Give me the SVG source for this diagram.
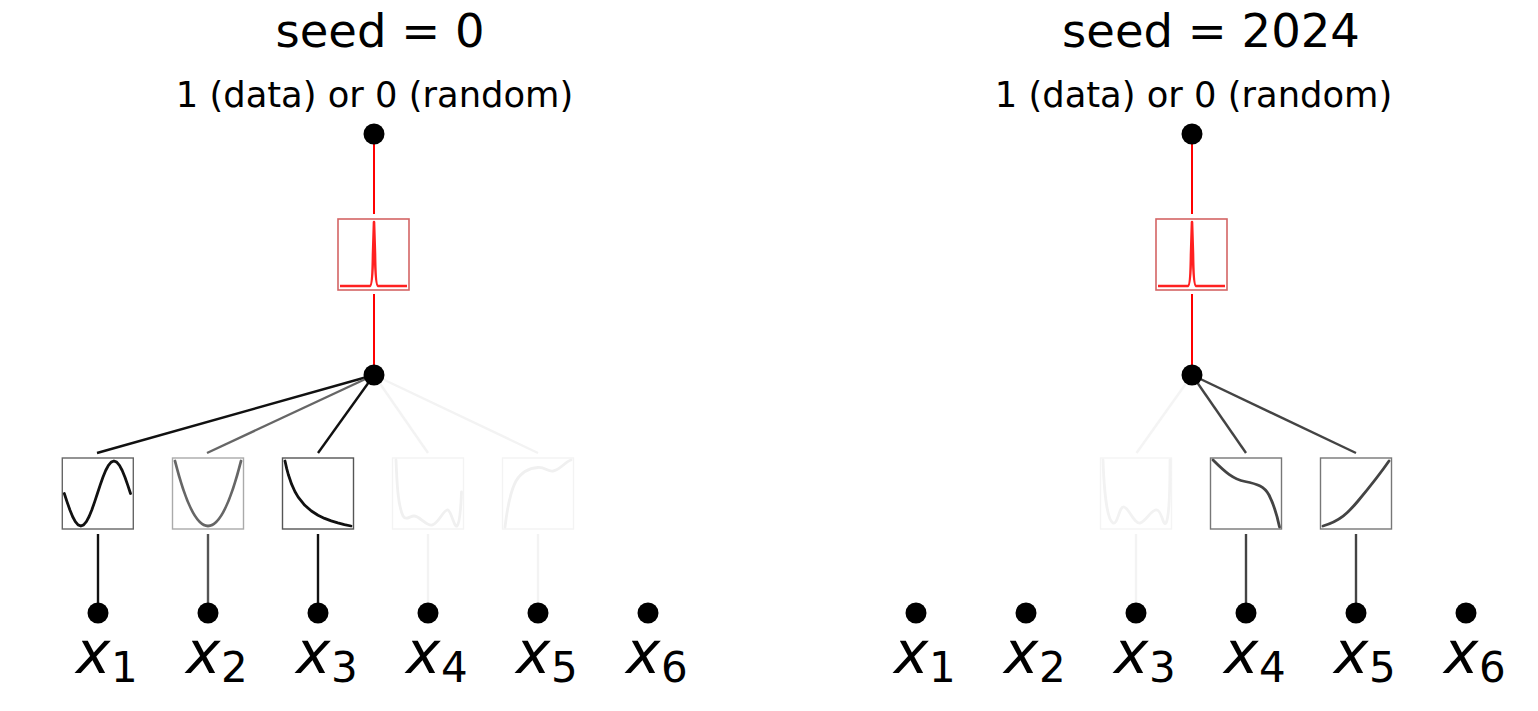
<svg xmlns="http://www.w3.org/2000/svg" width="1538" height="711" viewBox="0 0 1538 711">
<style>
text{font-family:"DejaVu Sans","Liberation Sans",sans-serif;fill:#000}
.title{font-size:46.5px;text-anchor:middle}
.sub{font-size:35.3px;text-anchor:middle}
.xv{font-size:58px;font-style:italic}
.xs{font-size:42px}
.node{fill:#000}
.red{stroke:#ff0000;stroke-width:2;fill:none}
.rbox{fill:#fff;stroke:#d46464;stroke-width:1.6}
.spike{stroke:#ff2020;stroke-width:2.6;fill:none;stroke-linejoin:round}
.box{fill:#fff;stroke-width:1.4}
.cv{fill:none;stroke-width:2.8;stroke-linecap:round;stroke-linejoin:round}
.ln{stroke-width:2.4;fill:none}
</style>
<rect width="1538" height="711" fill="#fff"/>

<g id="titles">
<text class="title" x="380" y="47">seed = 0</text>
<text class="sub" x="374.5" y="107">1 (data) or 0 (random)</text>
<text class="title" x="1211" y="47">seed = 2024</text>
<text class="sub" x="1193.5" y="107">1 (data) or 0 (random)</text>
</g>

<g id="connectors">
<!-- left panel -->
<line class="red" x1="374" y1="134" x2="374" y2="214"/>
<line class="red" x1="374" y1="294" x2="374" y2="375"/>
<line class="ln" stroke="#111" x1="374" y1="375" x2="97" y2="453"/>
<line class="ln" stroke="#666" x1="374" y1="375" x2="207" y2="453"/>
<line class="ln" stroke="#111" x1="374" y1="375" x2="318" y2="453"/>
<line class="ln" stroke="#f3f3f3" x1="374" y1="375" x2="428" y2="453"/>
<line class="ln" stroke="#f3f3f3" x1="374" y1="375" x2="538" y2="453"/>
<line class="ln" stroke="#111" x1="98" y1="534" x2="98" y2="613"/>
<line class="ln" stroke="#555" x1="208" y1="534" x2="208" y2="613"/>
<line class="ln" stroke="#111" x1="318" y1="534" x2="318" y2="613"/>
<line class="ln" stroke="#f3f3f3" x1="428" y1="534" x2="428" y2="613"/>
<line class="ln" stroke="#f3f3f3" x1="538" y1="534" x2="538" y2="613"/>
<!-- right panel -->
<line class="red" x1="1192" y1="134" x2="1192" y2="214"/>
<line class="red" x1="1192" y1="294" x2="1192" y2="375"/>
<line class="ln" stroke="#f4f4f4" x1="1192" y1="375" x2="1136.5" y2="453"/>
<line class="ln" stroke="#444" x1="1192" y1="375" x2="1246" y2="453"/>
<line class="ln" stroke="#444" x1="1192" y1="375" x2="1356" y2="453"/>
<line class="ln" stroke="#f3f3f3" x1="1136" y1="534" x2="1136" y2="613"/>
<line class="ln" stroke="#444" x1="1246" y1="534" x2="1246" y2="613"/>
<line class="ln" stroke="#444" x1="1356" y1="534" x2="1356" y2="613"/>
</g>

<!-- left panel nodes -->
<g id="L-top"><circle class="node" cx="374" cy="134" r="10.5"/></g>
<g id="L-act">
<rect class="rbox" x="338" y="219" width="71" height="71"/>
<path class="spike" d="M340,286 L370,286 Q372.5,285.5 373,254 L374,222 L375,254 Q375.5,285.5 378,286 L407,286"/>
</g>
<g id="L-mid"><circle class="node" cx="374" cy="375" r="10.5"/></g>
<g id="L-f1">
<rect class="box" stroke="#666" x="62.3" y="458" width="71" height="71"/>
<polyline class="cv" stroke="#111" points="64.3,493.5 67.06,501.91 69.82,509.75 72.57,516.48 75.33,521.65 78.09,524.89 80.85,526 83.61,524.89 86.37,521.65 89.12,516.48 91.88,509.75 94.64,501.91 97.4,493.5 100.16,485.09 102.92,477.25 105.67,470.52 108.43,465.35 111.19,462.11 113.95,461 116.71,462.11 119.47,465.35 122.22,470.52 124.98,477.25 127.74,485.09 130.5,493.5"/>
</g>
<g id="L-f2">
<rect class="box" stroke="#aaa" x="172.5" y="458" width="71" height="71"/>
<path class="cv" stroke="#666" d="M175,461 Q208,591 241,461"/>
</g>
<g id="L-f3">
<rect class="box" stroke="#555" x="282.5" y="458" width="71" height="71"/>
<polyline class="cv" stroke="#111" points="285,461 286.65,468.4 288.3,474.5 291.6,484.2 294.9,491.5 298.2,497.1 304.8,505.3 311.4,511 318,515.2 324.6,518.4 331.2,520.9 337.8,522.9 344.4,524.6 351,526"/>
</g>
<g id="L-f4">
<rect class="box" stroke="#f3f3f3" x="392.5" y="458" width="71" height="71"/>
<path class="cv" stroke="#f0f0f0" d="M396,460 C397,485 398,505 403,516 C406,521 410,516 414,516 C420,516 426,526 432,525 C438,524 443,511 447,510 C451,509 454,528 457,526 C460,523 461,505 461.5,492"/>
</g>
<g id="L-f5">
<rect class="box" stroke="#f3f3f3" x="502.5" y="458" width="71" height="71"/>
<path class="cv" stroke="#f0f0f0" d="M505,527 C507,510 510,492 516,481 C522,471 530,468 538,467.5 C545,467 548,472 553,471 C560,470 565,462 571,460"/>
</g>
<g id="L-x">
<circle class="node" cx="98" cy="613" r="10.5"/>
<circle class="node" cx="208" cy="613" r="10.5"/>
<circle class="node" cx="318" cy="613" r="10.5"/>
<circle class="node" cx="428" cy="613" r="10.5"/>
<circle class="node" cx="538" cy="613" r="10.5"/>
<circle class="node" cx="648" cy="613" r="10.5"/>
<text x="76" y="673"><tspan class="xv">x</tspan><tspan class="xs" x="111" y="682">1</tspan></text>
<text x="186" y="673"><tspan class="xv">x</tspan><tspan class="xs" x="221" y="682">2</tspan></text>
<text x="296" y="673"><tspan class="xv">x</tspan><tspan class="xs" x="331" y="682">3</tspan></text>
<text x="406" y="673"><tspan class="xv">x</tspan><tspan class="xs" x="441" y="682">4</tspan></text>
<text x="516" y="673"><tspan class="xv">x</tspan><tspan class="xs" x="551" y="682">5</tspan></text>
<text x="626" y="673"><tspan class="xv">x</tspan><tspan class="xs" x="661" y="682">6</tspan></text>
</g>

<!-- right panel nodes -->
<g id="R-top"><circle class="node" cx="1192" cy="134" r="10.5"/></g>
<g id="R-act">
<rect class="rbox" x="1156" y="219" width="71" height="71"/>
<path class="spike" d="M1158,286 L1188,286 Q1190.5,285.5 1191,254 L1192,222 L1193,254 Q1193.5,285.5 1196,286 L1225,286"/>
</g>
<g id="R-mid"><circle class="node" cx="1192" cy="375" r="10.5"/></g>
<g id="R-f3">
<rect class="box" stroke="#f4f4f4" x="1100.5" y="458" width="71" height="71"/>
<path class="cv" stroke="#f2f2f2" d="M1103,460 C1104,490 1107,520 1113,523 C1118,525 1119,506 1124,507 C1129,508 1134,524 1140,523 C1146,522 1151,509 1157,510 C1162,511 1163,527 1166,523 C1169,518 1170,490 1170,460"/>
</g>
<g id="R-f4">
<rect class="box" stroke="#777" x="1210.5" y="458" width="71" height="71"/>
<path class="cv" stroke="#444" d="M1213,460 C1225,472 1233,479 1245,481.5 C1257,484 1264,486 1269,495 C1273,503 1277,515 1279.5,527"/>
</g>
<g id="R-f5">
<rect class="box" stroke="#777" x="1320.5" y="458" width="71" height="71"/>
<path class="cv" stroke="#444" d="M1323,526 C1340,521 1348,513 1358,501 C1368,489 1380,474 1389,461"/>
</g>
<g id="R-x">
<circle class="node" cx="916" cy="613" r="10.5"/>
<circle class="node" cx="1026" cy="613" r="10.5"/>
<circle class="node" cx="1136" cy="613" r="10.5"/>
<circle class="node" cx="1246" cy="613" r="10.5"/>
<circle class="node" cx="1356" cy="613" r="10.5"/>
<circle class="node" cx="1466" cy="613" r="10.5"/>
<text x="894" y="673"><tspan class="xv">x</tspan><tspan class="xs" x="929" y="682">1</tspan></text>
<text x="1004" y="673"><tspan class="xv">x</tspan><tspan class="xs" x="1039" y="682">2</tspan></text>
<text x="1114" y="673"><tspan class="xv">x</tspan><tspan class="xs" x="1149" y="682">3</tspan></text>
<text x="1224" y="673"><tspan class="xv">x</tspan><tspan class="xs" x="1259" y="682">4</tspan></text>
<text x="1334" y="673"><tspan class="xv">x</tspan><tspan class="xs" x="1369" y="682">5</tspan></text>
<text x="1444" y="673"><tspan class="xv">x</tspan><tspan class="xs" x="1479" y="682">6</tspan></text>
</g>
</svg>
